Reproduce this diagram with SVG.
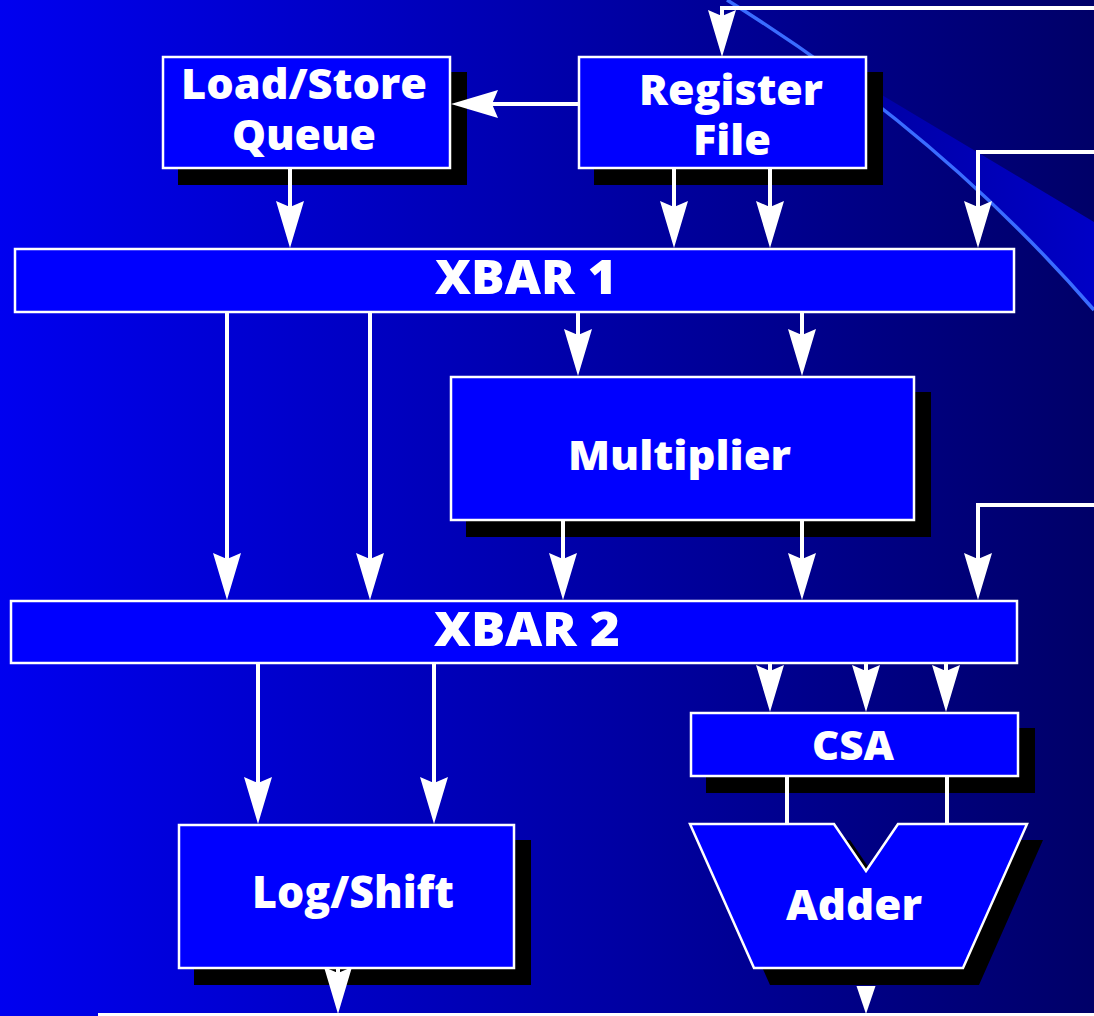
<svg xmlns="http://www.w3.org/2000/svg" width="1094" height="1016" viewBox="0 0 1094 1016">
<defs>
<linearGradient id="bg" x1="0" y1="0" x2="1094" y2="0" gradientUnits="userSpaceOnUse">
<stop offset="0" stop-color="#0000f0"/>
<stop offset="1" stop-color="#000068"/>
</linearGradient>
<linearGradient id="band" x1="800" y1="0" x2="1094" y2="0" gradientUnits="userSpaceOnUse">
<stop offset="0" stop-color="#00009c"/>
<stop offset="1" stop-color="#0000c6"/>
</linearGradient>
<marker id="ah" viewBox="0 0 47 28" refX="17" refY="14" markerWidth="47" markerHeight="28" markerUnits="userSpaceOnUse" orient="auto">
<path d="M0,0 L47,14 L0,28 L6,14 Z" fill="#ffffff"/>
</marker>
<style>
.box{fill:#0000ff;stroke:#ffffff;stroke-width:2.5}
.shadow{fill:#000000}
.lbl{fill:#ffffff;font-family:"Open Sans","DejaVu Sans",sans-serif;font-weight:800}
.wire{fill:none;stroke:#ffffff;stroke-width:4}
.arr{fill:none;stroke:#ffffff;stroke-width:4;marker-end:url(#ah)}
</style>
</defs>
<g id="background">
<rect x="0" y="0" width="1094" height="1016" fill="url(#bg)"/>
<path d="M727,0 Q938.5,131 1094,310 L1094,222 L800,46 Z" fill="url(#band)"/>
<path d="M727,0 Q938.5,131 1094,310" fill="none" stroke="#3a6cff" stroke-width="3.5"/>
<rect x="98" y="1013" width="996" height="3" fill="#ffffff"/>
</g>
<g id="loadstore">
<rect class="shadow" x="178" y="72" width="289" height="113"/>
<rect class="box" x="163" y="57" width="287" height="111"/>
<text class="lbl" font-size="43"><tspan x="181" y="99" textLength="246" lengthAdjust="spacingAndGlyphs">Load/Store</tspan><tspan x="232" y="150" textLength="144" lengthAdjust="spacingAndGlyphs">Queue</tspan></text>
</g>
<g id="regfile">
<rect class="shadow" x="594" y="72" width="289" height="113"/>
<rect class="box" x="579" y="57" width="287" height="111"/>
<text class="lbl" font-size="43"><tspan x="639" y="105" textLength="184" lengthAdjust="spacingAndGlyphs">Register</tspan><tspan x="693" y="155" textLength="78" lengthAdjust="spacingAndGlyphs">File</tspan></text>
</g>
<g id="xbar1">
<rect class="box" x="15" y="249" width="999" height="63"/>
<text class="lbl" x="435" y="294" font-size="47" textLength="182" lengthAdjust="spacingAndGlyphs">XBAR 1</text>
</g>
<g id="multiplier">
<rect class="shadow" x="466" y="392" width="465" height="145"/>
<rect class="box" x="451" y="377" width="463" height="143"/>
<text class="lbl" x="568" y="470" font-size="40" textLength="223" lengthAdjust="spacingAndGlyphs">Multiplier</text>
</g>
<g id="xbar2">
<rect class="box" x="11" y="601" width="1006" height="62"/>
<text class="lbl" x="434" y="646" font-size="47" textLength="186" lengthAdjust="spacingAndGlyphs">XBAR 2</text>
</g>
<g id="logshift">
<rect class="shadow" x="194" y="840" width="337" height="145"/>
<rect class="box" x="179" y="825" width="335" height="143"/>
<text class="lbl" x="252" y="908" font-size="44" textLength="202" lengthAdjust="spacingAndGlyphs">Log/Shift</text>
</g>
<g id="csa">
<rect class="shadow" x="706" y="728" width="329" height="65"/>
<rect class="box" x="691" y="713" width="327" height="63"/>
<text class="lbl" x="812" y="760" font-size="41" textLength="82" lengthAdjust="spacingAndGlyphs">CSA</text>
</g>
<g id="adder">
<polygon class="shadow" points="706,840 850,840 882,887 914,840 1043,840 979,985 770,985"/>
<polygon class="box" points="690,824 834,824 866,871 898,824 1027,824 963,968 754,968"/>
<text class="lbl" x="786" y="920" font-size="42" textLength="136" lengthAdjust="spacingAndGlyphs">Adder</text>
</g>
<g id="connectors">
<path class="arr" d="M1094,8 H722 V27"/>
<line class="arr" x1="579" y1="104" x2="481" y2="104"/>
<line class="arr" x1="290" y1="168" x2="290" y2="218"/>
<line class="arr" x1="674" y1="168" x2="674" y2="218"/>
<line class="arr" x1="770" y1="168" x2="770" y2="218"/>
<path class="arr" d="M1094,152 H978 V218"/>
<line class="arr" x1="227" y1="312" x2="227" y2="570"/>
<line class="arr" x1="370" y1="312" x2="370" y2="570"/>
<line class="arr" x1="578" y1="312" x2="578" y2="346"/>
<line class="arr" x1="802" y1="312" x2="802" y2="346"/>
<line class="arr" x1="563" y1="520" x2="563" y2="570"/>
<line class="arr" x1="802" y1="520" x2="802" y2="570"/>
<path class="arr" d="M1094,505 H978 V570"/>
<line class="arr" x1="258" y1="663" x2="258" y2="794"/>
<line class="arr" x1="434" y1="663" x2="434" y2="794"/>
<line class="arr" x1="770" y1="663" x2="770" y2="682"/>
<line class="arr" x1="866" y1="663" x2="866" y2="682"/>
<line class="arr" x1="946" y1="663" x2="946" y2="682"/>
<line class="wire" x1="787" y1="776" x2="787" y2="824"/>
<line class="wire" x1="947" y1="776" x2="947" y2="824"/>
<line class="arr" x1="338" y1="968" x2="338" y2="984"/>
<polygon points="856.5,986 875.5,986 866,1014" fill="#ffffff"/>
</g>
</svg>
